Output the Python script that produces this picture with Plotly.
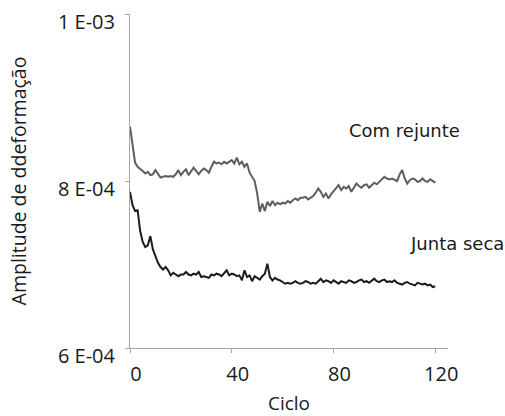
import plotly.graph_objects as go

cycles = list(range(0, 121))

# Amplitude values in units of 1E-04
com_rejunte = [
    8.65, 8.40, 8.22, 8.17, 8.15, 8.12, 8.09, 8.11, 8.07, 8.08,
    8.13, 8.08, 8.04, 8.05, 8.06, 8.05, 8.06, 8.05, 8.08, 8.13,
    8.07, 8.11, 8.14, 8.07, 8.11, 8.16, 8.12, 8.08, 8.12, 8.15,
    8.13, 8.10, 8.17, 8.23, 8.21, 8.22, 8.20, 8.23, 8.21, 8.23,
    8.25, 8.21, 8.28, 8.20, 8.23, 8.17, 8.21, 8.10, 8.05, 8.00,
    7.85, 7.63, 7.73, 7.64, 7.75, 7.70, 7.76, 7.71, 7.74, 7.72,
    7.74, 7.73, 7.76, 7.74, 7.77, 7.79, 7.77, 7.80, 7.80, 7.81,
    7.78, 7.80, 7.82, 7.86, 7.91, 7.87, 7.81, 7.85, 7.79, 7.84,
    7.88, 7.92, 7.95, 7.89, 7.93, 7.91, 7.94, 7.87, 7.92, 7.97,
    7.94, 7.92, 7.95, 7.96, 7.92, 7.95, 7.98, 7.96, 7.99, 8.02,
    8.05, 8.03, 8.02, 8.03, 8.01, 8.00, 8.08, 8.13, 8.03, 7.97,
    8.01, 8.03, 8.02, 7.99, 8.00, 8.03, 8.00, 7.99, 8.02, 8.00,
    7.98,
]

junta_seca = [
    7.87, 7.71, 7.64, 7.65, 7.40, 7.27, 7.21, 7.23, 7.34, 7.18,
    7.10, 7.02, 6.97, 6.94, 6.97, 6.93, 6.87, 6.90, 6.88, 6.86,
    6.88, 6.88, 6.91, 6.88, 6.87, 6.89, 6.88, 6.91, 6.85, 6.86,
    6.85, 6.84, 6.88, 6.87, 6.89, 6.88, 6.86, 6.90, 6.93, 6.87,
    6.89, 6.88, 6.86, 6.87, 6.81, 6.93, 6.85, 6.87, 6.80, 6.86,
    6.84, 6.82, 6.86, 6.89, 7.01, 6.85, 6.81, 6.84, 6.82, 6.81,
    6.79, 6.77, 6.78, 6.77, 6.78, 6.80, 6.78, 6.77, 6.78, 6.80,
    6.79, 6.77, 6.78, 6.77, 6.80, 6.83, 6.79, 6.81, 6.80, 6.78,
    6.81, 6.79, 6.77, 6.80, 6.79, 6.78, 6.81, 6.80, 6.78, 6.79,
    6.81, 6.82, 6.79, 6.80, 6.78, 6.81, 6.83, 6.80, 6.79, 6.81,
    6.82, 6.79, 6.80, 6.79, 6.81, 6.78, 6.77, 6.76, 6.78, 6.79,
    6.77, 6.76, 6.75, 6.78, 6.77, 6.76, 6.77, 6.75, 6.76, 6.73,
    6.74,
]

y_tick_vals = [6e-4, 8e-4, 1e-3]
y_tick_text = ["6 E-04", "8 E-04", "1 E-03"]
x_tick_vals = [0, 40, 80, 120]

scale = 1e-4
fig = go.Figure()
fig.add_trace(go.Scatter(
    x=cycles, y=[v * scale for v in com_rejunte], mode="lines",
    name="Com rejunte", line=dict(color="#5e5e5e", width=2),
))
fig.add_trace(go.Scatter(
    x=cycles, y=[v * scale for v in junta_seca], mode="lines",
    name="Junta seca", line=dict(color="#1c1c1c", width=2),
))

ann_font = dict(family="DejaVu Sans", size=18, color="#1a1a1a")
fig.add_annotation(xref="paper", yref="paper", x=0.862, y=0.650,
                   xanchor="center", yanchor="middle",
                   text="Com rejunte", showarrow=False, font=ann_font)
fig.add_annotation(xref="paper", yref="paper", x=1.028, y=0.314,
                   xanchor="center", yanchor="middle",
                   text="Junta seca", showarrow=False, font=ann_font)

axis_color = "#a6a6a6"
fig.update_layout(
    width=505, height=416,
    margin=dict(l=130, r=57, t=14, b=68),
    paper_bgcolor="white", plot_bgcolor="white",
    showlegend=False,
    font=dict(family="Open Sans", size=20, color="#1a1a1a"),
    xaxis=dict(
        range=[0, 125], tickvals=x_tick_vals, showgrid=False, zeroline=False,
        showline=True, linecolor=axis_color, linewidth=1,
        ticks="outside", ticklen=4, tickcolor=axis_color,
        ticklabelstandoff=4, ticklabelshift=6, automargin=False,
        title=dict(text="Ciclo", standoff=27, font=dict(size=19)),
    ),
    yaxis=dict(
        range=[6e-4, 1e-3], tickvals=y_tick_vals, ticktext=y_tick_text,
        showgrid=False, zeroline=False,
        showline=True, linecolor=axis_color, linewidth=1,
        ticks="outside", ticklen=4, tickcolor=axis_color,
        ticklabelstandoff=6, ticklabelshift=8, automargin=False,
        title=dict(text="Amplitude de ddeformação", standoff=26, font=dict(size=19.5)),
    ),
)

fig.write_html("out.html")
